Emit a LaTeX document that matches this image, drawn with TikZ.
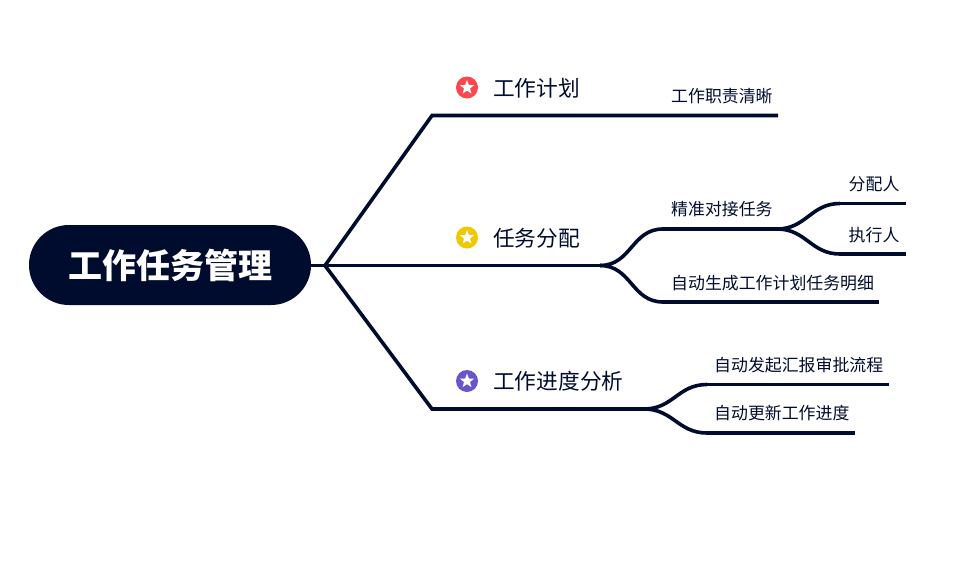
\documentclass[tikz,border=0pt]{standalone}
\usepackage{fontspec}
\setmainfont{Noto Sans CJK SC}
\usetikzlibrary{positioning, shapes.geometric}
\definecolor{navy}{HTML}{000C2E}
\definecolor{redmark}{HTML}{F9474D}
\definecolor{yellowmark}{HTML}{F0C800}
\definecolor{purplemark}{HTML}{6A55C8}
\begin{document}
\begin{tikzpicture}[
        x=1pt, y=-1pt,
        rootbox/.style={fill=navy, text=white, rounded corners=39.9pt, minimum width=282pt, minimum height=80pt, inner sep=0pt, font=\fontsize{34}{34}\selectfont\bfseries},
        topic/.style={anchor=west, inner sep=0pt, text=navy, font=\fontsize{21.7}{22}\selectfont},
        leaf/.style={anchor=west, inner sep=0pt, text=navy, font=\fontsize{16.9}{17}\selectfont},
        mark/.style={circle, fill=#1, minimum size=22pt, inner sep=0pt},
        starmark/.style={star, star points=5, star point ratio=2.4, fill=white, minimum size=15pt, inner sep=0pt},
        branch/.style={line width=3.6pt, draw=navy, line join=miter},
        curved/.style={branch, out=0, in=180, looseness=1.1}
    ]
    \useasboundingbox (0,0) rectangle (974,562);

    \node[rootbox] (root) at (170,265) {\raisebox{-2pt}{工作任务管理}};
    \coordinate (fork) at (325,265.5);

    % knee and end points of the branches
    \coordinate (planknee) at (432,115.5);
    \coordinate (planend) at (778,115.5);
    \coordinate (assignknee) at (432,265.5);
    \coordinate (assignsplit) at (600,265.5);
    \coordinate (progressknee) at (432,409);
    \coordinate (progresssplit) at (644,409);

    \coordinate (matchstart) at (663,229);
    \coordinate (matchsplit) at (777,229);
    \coordinate (detailstart) at (663,302);
    \coordinate (detailend) at (879,302);
    \coordinate (allotstart) at (840,203.5);
    \coordinate (allotend) at (906,203.5);
    \coordinate (doerstart) at (840,254);
    \coordinate (doerend) at (906,254);
    \coordinate (reportstart) at (707,384.5);
    \coordinate (reportend) at (889,384.5);
    \coordinate (updatestart) at (707,433);
    \coordinate (updateend) at (855,433);

    \draw[branch] (root.east |- fork) -- (fork);
    \draw[branch] (fork) -- (planknee) -- (planend);
    \draw[branch] (fork) -- (assignknee) -- (assignsplit);
    \draw[branch] (fork) -- (progressknee) -- (progresssplit);

    \draw[curved] (assignsplit) to (matchstart);
    \draw[branch] (matchstart) -- (matchsplit);
    \draw[curved] (assignsplit) to (detailstart);
    \draw[branch] (detailstart) -- (detailend);
    \draw[curved] (matchsplit) to (allotstart);
    \draw[branch] (allotstart) -- (allotend);
    \draw[curved] (matchsplit) to (doerstart);
    \draw[branch] (doerstart) -- (doerend);
    \draw[curved] (progresssplit) to (reportstart);
    \draw[branch] (reportstart) -- (reportend);
    \draw[curved] (progresssplit) to (updatestart);
    \draw[branch] (updatestart) -- (updateend);

    \node[mark=redmark] (planmark) at (467,87.5) {};
    \node[starmark] (planstar) at (planmark) {};
    \node[mark=yellowmark] (assignmark) at (467,237.5) {};
    \node[starmark] (assignstar) at (assignmark) {};
    \node[mark=purplemark] (progressmark) at (467,381) {};
    \node[starmark] (progressstar) at (progressmark) {};

    \node[topic] (plan) at (493,88.5) {工作计划};
    \node[topic] (assign) at (493,238.5) {任务分配};
    \node[topic] (progress) at (493,381.5) {工作进度分析};

    \node[leaf] (duty) at (671,96.5) {工作职责清晰};
    \node[leaf] (match) at (671,209.5) {精准对接任务};
    \node[leaf] (detail) at (671,283.5) {自动生成工作计划任务明细};
    \node[leaf] (allot) at (848.5,184.5) {分配人};
    \node[leaf] (doer) at (848.5,235.5) {执行人};
    \node[leaf] (report) at (714,365.5) {自动发起汇报审批流程};
    \node[leaf] (update) at (714,413.5) {自动更新工作进度};
\end{tikzpicture}
\end{document}
